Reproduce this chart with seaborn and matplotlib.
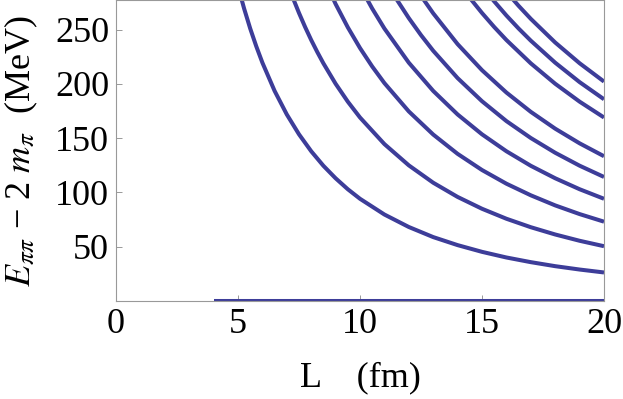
import seaborn as sns
import matplotlib.pyplot as plt
import pandas as pd

# Two-pion energy levels in a box (MeV vs fm)
L_thr = [4, 20]
E_thr = [0, 0]

L_n1 = [5, 5.25, 5.5, 5.75, 6, 6.5, 7, 7.5, 8, 8.5, 9, 9.5, 10, 11, 12, 13, 14, 15, 16, 17, 18, 19, 20]
E_n1 = [289.9, 269.5, 251.1, 234.6, 219.6, 193.6, 171.9, 153.6, 138.0, 124.6, 113.1, 103.0, 94.2,
        79.7, 68.2, 58.9, 51.5, 45.3, 40.1, 35.8, 32.1, 29.0, 26.3]

L_n2 = [7, 7.25, 7.5, 7.75, 8, 8.25, 8.5, 9, 9.5, 10, 11, 12, 13, 14, 15, 16, 17, 18, 19, 20]
E_n2 = [294.3, 279.3, 265.4, 252.5, 240.5, 229.4, 219.0, 200.2, 183.7, 169.1, 144.6, 125.0, 109.0,
        95.9, 85.0, 75.8, 68.0, 61.3, 55.5, 50.5]

L_n3 = [8.5, 9, 9.5, 10, 10.5, 11, 12, 13, 14, 15, 16, 17, 18, 19, 20]
E_n3 = [298.1, 273.7, 252.2, 233.1, 216.1, 200.8, 174.7, 153.4, 135.6, 120.7,
        108.1, 97.4, 88.1, 80.1, 73.1]

L_n4 = [10, 10.5, 11, 12, 13, 14, 15, 16, 17, 18, 19, 20]
E_n4 = [289.9, 269.5, 251.1, 219.6, 193.6, 171.9, 153.6, 138.0, 124.6, 113.1, 103.0, 94.2]

L_n5 = [11, 11.5, 12, 12.5, 13, 14, 15, 16, 17, 18, 19, 20]
E_n5 = [297.0, 278.0, 260.7, 245.0, 230.6, 205.4, 184.1, 165.8, 150.2, 136.6, 124.7, 114.3]

L_n6 = [12, 12.5, 13, 14, 15, 16, 17, 18, 19, 20]
E_n6 = [298.9, 281.2, 265.1, 236.7, 212.7, 192.1, 174.3, 158.8, 145.3, 133.4]

L_n8 = [14, 14.5, 15, 15.5, 16, 17, 18, 19, 20]
E_n8 = [294.3, 279.3, 265.4, 252.5, 240.5, 219.0, 200.2, 183.7, 169.1]

L_n9 = [15, 15.5, 16, 16.5, 17, 18, 19, 20]
E_n9 = [289.9, 276.1, 263.1, 251.1, 239.9, 219.6, 201.7, 185.9]

L_n10 = [16, 16.5, 17, 18, 19, 20]
E_n10 = [284.9, 272.0, 260.0, 238.2, 219.1, 202.2]

levels = [(L_thr, E_thr), (L_n1, E_n1), (L_n2, E_n2), (L_n3, E_n3), (L_n4, E_n4),
          (L_n5, E_n5), (L_n6, E_n6), (L_n8, E_n8), (L_n9, E_n9), (L_n10, E_n10)]


def create_chart():
    sns.set_style("ticks")
    plt.rcParams["font.family"] = ["Liberation Serif", "DejaVu Serif"]
    plt.rcParams["mathtext.fontset"] = "stix"
    plt.rcParams["text.color"] = "black"
    plt.rcParams["axes.labelcolor"] = "black"

    frames = []
    for i, (L, E) in enumerate(levels):
        frames.append(pd.DataFrame({"L": L, "E": E, "level": i}))
    df = pd.concat(frames, ignore_index=True)

    fig = plt.figure(figsize=(6.23, 3.99), dpi=100)
    ax = fig.add_axes([0.1862, 0.2456, 0.7833, 0.7534])

    sns.lineplot(data=df, x="L", y="E", units="level", estimator=None,
                 color="#3d3d99", linewidth=2.9, sort=False, ax=ax,
                 solid_capstyle="butt")

    ax.set_xlim(0, 20)
    ax.set_ylim(0, 277)
    ax.set_xticks([0, 5, 10, 15, 20])
    ax.set_yticks([50, 100, 150, 200, 250])

    for side in ["left", "right", "top", "bottom"]:
        ax.spines[side].set_visible(True)
        ax.spines[side].set_color("#999999")
        ax.spines[side].set_linewidth(0.8)

    ax.tick_params(direction="in", length=4, width=0.7, color="#999999",
                   labelcolor="black", labelsize=26, pad=5)

    ax.set_xlabel("L    (fm)", fontsize=26, labelpad=15, color="black")
    ax.set_ylabel(r"$E_{\pi\pi}$ − 2 $m_{\pi}$  (MeV)", fontsize=26,
                  labelpad=11, color="black")

    fig.savefig("out.png", dpi=100)
    plt.close(fig)


if __name__ == "__main__":
    create_chart()
